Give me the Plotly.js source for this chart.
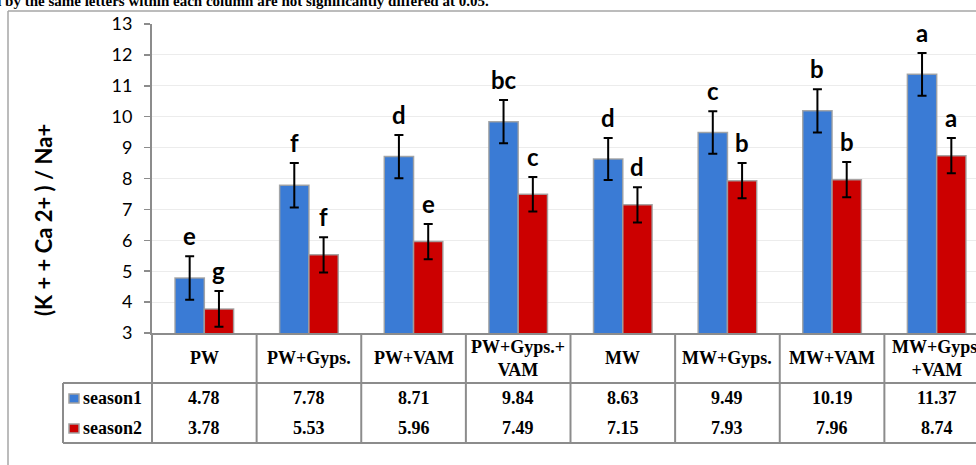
<!DOCTYPE html>
<html>
<head>
<meta charset="utf-8">
<script src="https://cdn.plot.ly/plotly-3.0.1.min.js"></script>
<style>
html,body{margin:0;padding:0;overflow:hidden;background:#fff;}
#chart{width:1000px;height:465px;}
</style>
</head>
<body>
<div id="chart"></div>
<script>
// ---- data ----
const categories = ["PW", "PW+Gyps.", "PW+VAM", "PW+Gyps.+<br>VAM", "MW", "MW+Gyps.", "MW+VAM", "MW+Gyps.<br>+VAM"];
const seriesNames = ["season1", "season2"];
const season1 = [4.78, 7.78, 8.71, 9.84, 8.63, 9.49, 10.19, 11.37];
const season2 = [3.78, 5.53, 5.96, 7.49, 7.15, 7.93, 7.96, 8.74];
const season1Err = [0.70, 0.72, 0.70, 0.70, 0.68, 0.69, 0.70, 0.69];
const season2Err = [0.58, 0.57, 0.57, 0.56, 0.57, 0.57, 0.57, 0.57];
const season1Letters = ["e", "f", "d", "bc", "d", "c", "b", "a"];
const season2Letters = ["g", "f", "e", "c", "d", "b", "b", "a"];
const yTitle = "(K + + Ca 2+ ) / Na+";
const noteText = "d by the same letters within each column are not significantly differed at 0.05.";

// ---- styles ----
const blue = "#3a7bd5";
const red = "#cc0000";
const gridGrey = "#8c8c8c";
const n = categories.length;
const barGap = 0.44;
const halfOffset = (1 - barGap) / 4; // centre offset of each bar within group

const traces = [
  {
    type: "bar", name: seriesNames[0], x: categories, y: season1,
    marker: {color: blue, line: {color: "rgba(160,160,160,0.9)", width: 1.5}},
    error_y: {type: "data", array: season1Err, visible: true, color: "#000", thickness: 2, width: 4.5}
  },
  {
    type: "bar", name: seriesNames[1], x: categories, y: season2,
    marker: {color: red, line: {color: "rgba(160,160,160,0.9)", width: 1.5}},
    error_y: {type: "data", array: season2Err, visible: true, color: "#000", thickness: 2, width: 4.5}
  }
];

const annotations = [];
const shapes = [];
const letterFont = {family: "Lato, 'Open Sans', sans-serif", size: 24, color: "#000", weight: 700};
const tableFont = {family: "'Liberation Serif', 'Times New Roman', serif", size: 18, color: "#000", weight: 700};

// significance letters
for (let i = 0; i < n; i++) {
  annotations.push({xref: "x", yref: "y", x: i - halfOffset, y: season1[i] + season1Err[i],
    text: season1Letters[i], showarrow: false, xanchor: "center", yanchor: "bottom", yshift: 4, font: letterFont});
  annotations.push({xref: "x", yref: "y", x: i + halfOffset, y: season2[i] + season2Err[i],
    text: season2Letters[i], showarrow: false, xanchor: "center", yanchor: "bottom", yshift: 4, font: letterFont});
}

// table geometry (paper coordinates; plot area 152..989 px wide, 24..333 px high)
const pxW = 837, pxH = 309;
const py = v => (333 - v) / pxH;   // pixel row -> paper y
const px = v => (v - 152) / pxW;   // pixel col -> paper x
const headerY = py(358), row1Y = py(398), row2Y = py(428);

for (let i = 0; i < n; i++) {
  annotations.push({xref: "x", yref: "paper", x: i, y: headerY, text: categories[i],
    showarrow: false, xanchor: "center", yanchor: "middle", font: tableFont, align: "center"});
  annotations.push({xref: "x", yref: "paper", x: i, y: row1Y, text: season1[i].toFixed(2),
    showarrow: false, xanchor: "center", yanchor: "middle", font: tableFont});
  annotations.push({xref: "x", yref: "paper", x: i, y: row2Y, text: season2[i].toFixed(2),
    showarrow: false, xanchor: "center", yanchor: "middle", font: tableFont});
}
// vertical table lines
for (let i = 0; i <= n; i++) {
  shapes.push({type: "line", xref: "paper", yref: "paper", x0: i / n, x1: i / n, y0: py(333), y1: py(443),
    line: {color: gridGrey, width: 2}});
}
// horizontal table lines
shapes.push({type: "line", xref: "paper", yref: "paper", x0: px(63), x1: 1, y0: py(383), y1: py(383), line: {color: gridGrey, width: 2}});
shapes.push({type: "line", xref: "paper", yref: "paper", x0: px(63), x1: 1, y0: py(443), y1: py(443), line: {color: gridGrey, width: 2}});
shapes.push({type: "line", xref: "paper", yref: "paper", x0: px(63), x1: px(63), y0: py(383), y1: py(443), line: {color: gridGrey, width: 2}});

// legend keys in table
const keyColors = [blue, red];
const keyRows = [398, 428];
for (let k = 0; k < 2; k++) {
  shapes.push({type: "rect", xref: "paper", yref: "paper", x0: px(69), x1: px(79), y0: py(keyRows[k] - 4), y1: py(keyRows[k] + 5),
    fillcolor: keyColors[k], line: {color: "#a0a0a0", width: 1.5}});
  annotations.push({xref: "paper", yref: "paper", x: px(81), y: py(keyRows[k]), xanchor: "left", yanchor: "middle",
    text: seriesNames[k], showarrow: false, font: tableFont});
}

// outer chart border (left + top)
shapes.push({type: "line", xref: "paper", yref: "paper", x0: px(8), x1: px(8), y0: py(11), y1: py(480), line: {color: "#a6a6a6", width: 1.5}});
shapes.push({type: "line", xref: "paper", yref: "paper", x0: px(8), x1: px(1010), y0: py(11), y1: py(11), line: {color: "#a6a6a6", width: 1.5}});

// y axis title
annotations.push({xref: "paper", yref: "paper", x: px(43), y: py(220), xanchor: "center", yanchor: "middle",
  text: yTitle, textangle: -90, showarrow: false,
  font: {family: "Lato, 'Open Sans', sans-serif", size: 22, color: "#000", weight: 700}});

// cut-off note at the very top
annotations.push({xref: "paper", yref: "paper", x: px(491), y: py(7), xanchor: "right", yanchor: "bottom",
  yshift: -4, text: noteText, showarrow: false,
  font: {family: "'Liberation Serif', 'Times New Roman', serif", size: 15, color: "#000", weight: 700}});

const layout = {
  width: 1000, height: 465,
  margin: {l: 152, r: 11, t: 24, b: 132},
  paper_bgcolor: "#fff", plot_bgcolor: "#fff",
  barmode: "group", bargap: barGap, bargroupgap: 0,
  showlegend: false,
  xaxis: {type: "category", range: [-0.5, n - 0.5], showticklabels: false, showline: true,
    linecolor: gridGrey, linewidth: 2, ticks: "", showgrid: false, zeroline: false, fixedrange: true},
  yaxis: {range: [3, 13], dtick: 1, tick0: 3, showline: true, linecolor: gridGrey, linewidth: 2,
    ticks: "outside", ticklen: 6, tickcolor: gridGrey, tickwidth: 1.5,
    showgrid: true, gridcolor: "#ececec", gridwidth: 1, zeroline: false, ticklabelstandoff: 8,
    tickfont: {family: "Lato, 'Open Sans', sans-serif", size: 18, color: "#000"}},
  annotations: annotations,
  shapes: shapes
};

Plotly.newPlot("chart", traces, layout, {displayModeBar: false, staticPlot: true});
</script>
</body>
</html>
